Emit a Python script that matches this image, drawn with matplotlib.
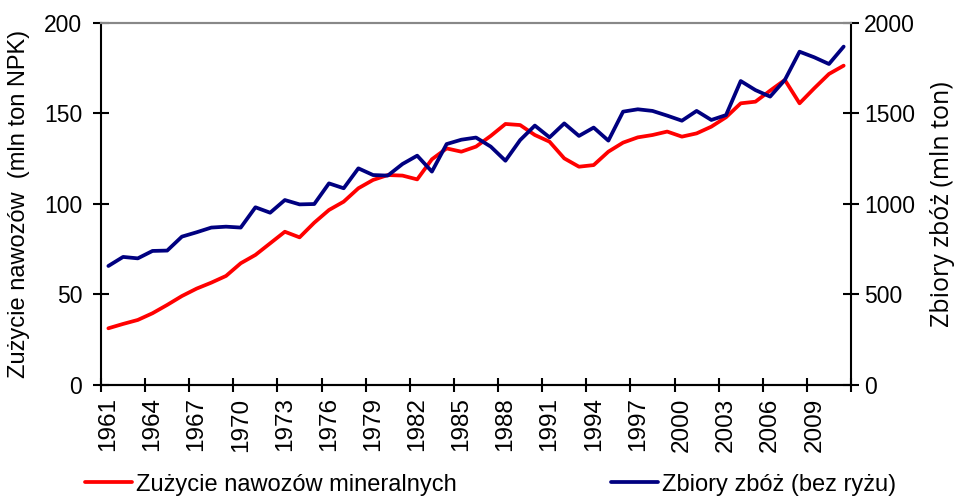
import numpy as np
from matplotlib import pyplot as plt

plt.rcParams['font.family'] = ['Liberation Sans', 'DejaVu Sans']

years = list(range(1961, 2012))

# fertilizer use, mln t NPK (left axis)
fert = [31.3, 33.7, 35.9, 39.6, 44.2, 49.1, 53.2, 56.5, 60.2, 67.2,
        71.8, 78.2, 84.6, 81.5, 89.6, 96.6, 101.2, 108.6, 113.2, 115.9,
        115.6, 113.5, 124.6, 130.6, 128.8, 131.6, 137.5, 144.1, 143.5, 138.0,
        134.3, 125.1, 120.5, 121.4, 128.8, 133.8, 136.7, 138.0, 139.9, 137.1,
        138.9, 142.6, 147.8, 155.5, 156.4, 162.5, 168.4, 155.5, 163.8, 171.7,
        176.3]

# cereal production without rice, mln t (right axis)
cereal = [657, 707, 699, 740, 742, 819, 843, 869, 874, 869,
          981, 951, 1021, 997, 999, 1113, 1086, 1196, 1159, 1156,
          1220, 1266, 1178, 1330, 1354, 1366, 1316, 1238, 1352, 1432,
          1367, 1444, 1375, 1421, 1349, 1509, 1522, 1513, 1487, 1459,
          1513, 1463, 1490, 1678, 1628, 1592, 1684, 1840, 1809, 1772,
          1868]

label_years = years[::3]

fig = plt.figure(figsize=(9.64, 4.99), dpi=100)
ax = fig.add_axes([0.1048, 0.2285, 0.778, 0.726])
ax2 = ax.twinx()

l1, = ax.plot(years, fert, color='#ff0000', lw=2.7, solid_joinstyle='round',
              solid_capstyle='round')
l2, = ax2.plot(years, cereal, color='#000080', lw=2.7, solid_joinstyle='round',
               solid_capstyle='round')

ax.set_xlim(years[0] - 0.5, years[-1] + 0.5)
ax.set_ylim(0, 200)
ax2.set_ylim(0, 2000)
ax.set_yticks([0, 50, 100, 150, 200])
ax2.set_yticks([0, 500, 1000, 1500, 2000])

# tick marks between categories, labels centred on the category
ax.set_xticks(np.arange(years[0] - 0.5, years[-1] + 1, 3))
ax.set_xticklabels([])
ax.set_xticks(label_years, minor=True)
ax.set_xticklabels([str(y) for y in label_years], minor=True, rotation=90,
                   fontsize=17.5)
ax.tick_params(axis='x', which='major', direction='inout', length=10, width=1.5)
ax.tick_params(axis='x', which='minor', length=0, pad=9)

ax.tick_params(axis='y', direction='inout', length=11, width=1.5,
               labelsize=16.5, pad=8)
ax2.tick_params(axis='y', direction='inout', length=11, width=1.5,
                labelsize=16.5, pad=4)

for a in (ax, ax2):
    for s in ('left', 'right', 'bottom'):
        a.spines[s].set_linewidth(1.5)
    a.spines['top'].set_color('#888888')
    a.spines['top'].set_linewidth(1.5)
ax.spines['right'].set_visible(False)
ax2.spines['left'].set_visible(False)

ax.set_ylabel('Zużycie nawozów  (mln ton NPK)', fontsize=17, labelpad=10)
ax2.set_ylabel('Zbiory zbóż (mln ton)', fontsize=18, labelpad=11,
               family=['Open Sans', 'DejaVu Sans'])

fig.legend([l1, l2], ['Zużycie nawozów mineralnych', 'Zbiory zbóż (bez ryżu)'],
           loc='lower left', bbox_to_anchor=(0.066, -0.036), ncol=2,
           frameon=False, fontsize=17, handlelength=2.0, handletextpad=0.15,
           columnspacing=6.55)

fig.savefig('out.png', dpi=100)
